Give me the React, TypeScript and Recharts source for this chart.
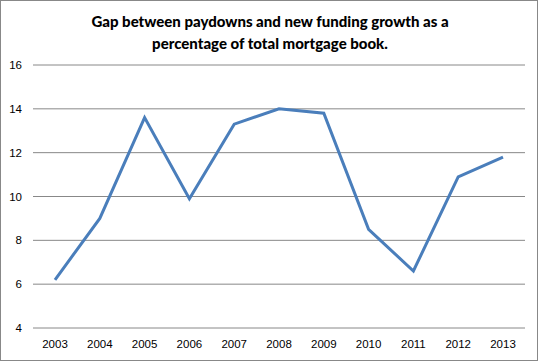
import React from 'react';
import { CartesianGrid, Line, LineChart, XAxis, YAxis } from 'recharts';

const years = ['2003', '2004', '2005', '2006', '2007', '2008', '2009', '2010', '2011', '2012', '2013'];
const gapValues = [6.2, 9.0, 13.6, 9.9, 13.3, 14.0, 13.8, 8.5, 6.6, 10.9, 11.8];
const yTicks = [4, 6, 8, 10, 12, 14, 16];

const chartData = years.map((year, i) => ({ year, gap: gapValues[i] }));

const tickFont = { fontFamily: 'Liberation Sans, Arial, sans-serif', fontSize: 11.5, fill: '#000' };

export default function App() {
  return (
    <div
      style={{
        position: 'absolute',
        left: 0,
        top: 0,
        width: 538,
        height: 361,
        border: '1px solid #888',
        boxSizing: 'border-box',
        background: '#fff',
      }}
    >
      <div
        style={{
          position: 'absolute',
          left: 0,
          top: 9,
          width: 538,
          textAlign: 'center',
          fontFamily: 'Lato, sans-serif',
          fontWeight: 900,
          fontSize: 15,
          lineHeight: '22px',
          color: '#000',
        }}
      >
        Gap between paydowns and new funding growth as a<br />
        percentage of total mortgage book.
      </div>
      <div style={{ position: 'absolute', left: -1, top: -1 }}>
        <LineChart
          width={538}
          height={361}
          data={chartData}
          margin={{ top: 65, right: 13, bottom: 8, left: 0 }}
        >
          <CartesianGrid vertical={false} stroke="#888" strokeWidth={1} />
          <XAxis
            dataKey="year"
            axisLine={false}
            tickLine={false}
            tickSize={0}
            tickMargin={12}
            height={25}
            tick={tickFont}
            interval={0}
            padding={{ left: 22, right: 22 }}
          />
          <YAxis
            domain={[4, 16]}
            ticks={yTicks}
            axisLine={false}
            tickLine={false}
            tickSize={0}
            tickMargin={11}
            width={33}
            tick={tickFont}
          />
          <Line
            type="linear"
            dataKey="gap"
            stroke="#4A7EBB"
            strokeWidth={3}
            dot={false}
            isAnimationActive={false}
          />
        </LineChart>
      </div>
    </div>
  );
}
